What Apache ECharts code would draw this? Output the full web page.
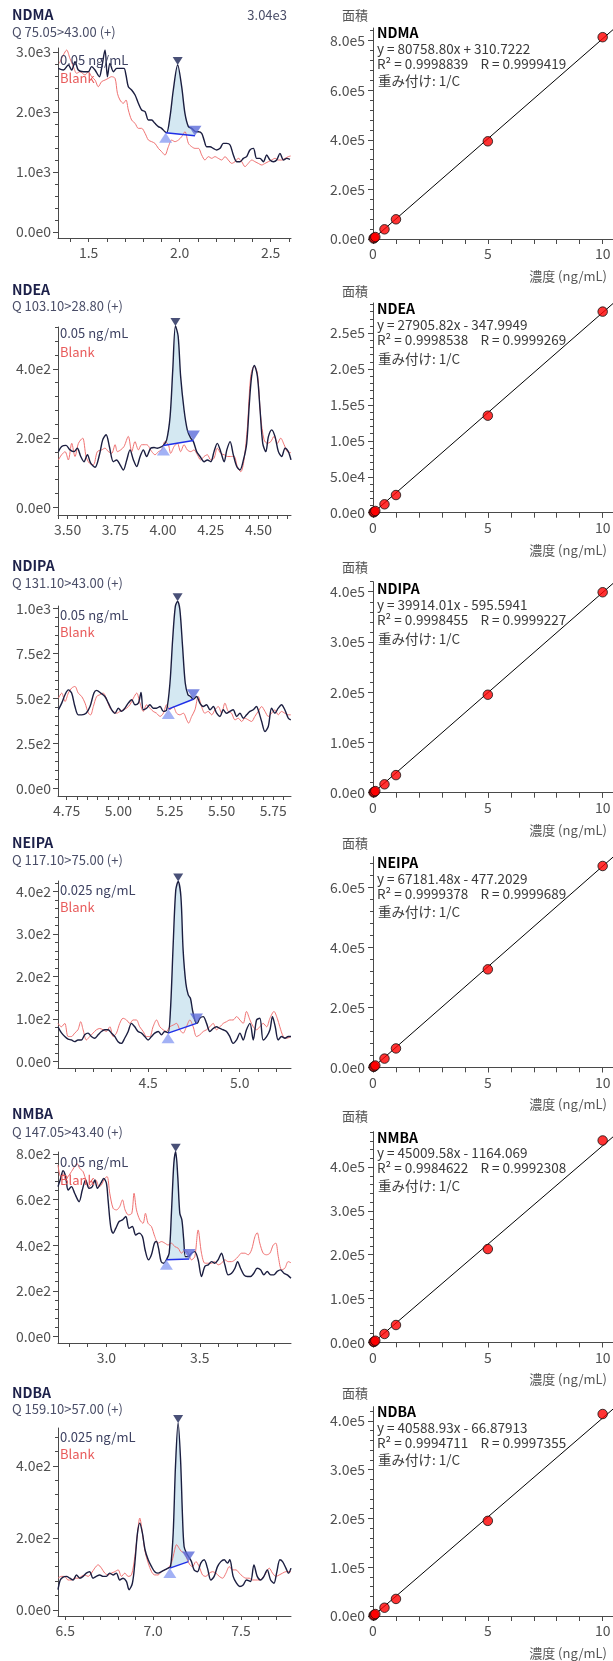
<!DOCTYPE html>
<html><head><meta charset="utf-8">
<script src="https://cdn.jsdelivr.net/npm/echarts@6/dist/echarts.min.js"></script>
<style>html,body{margin:0;padding:0;background:#fff}#c{width:613px;height:1661px}</style>
</head><body><div id="c"></div><script>
// ---------------- DATA ----------------
const compounds = ['NDMA','NDEA','NDIPA','NEIPA','NMBA','NDBA'];
const transitions = ['Q 75.05>43.00 (+)','Q 103.10>28.80 (+)','Q 131.10>43.00 (+)','Q 117.10>75.00 (+)','Q 147.05>43.40 (+)','Q 159.10>57.00 (+)'];
const sampleNames = ['0.05 ng/mL','0.05 ng/mL','0.05 ng/mL','0.025 ng/mL','0.05 ng/mL','0.025 ng/mL'];
const blankName = 'Blank';
const maxIntensityLabel = '3.04e3';

const ndmaSample = [[1.333,2728],[1.361,2700],[1.388,2783],[1.407,2700],[1.425,2839],[1.443,2700],[1.471,2672],[1.498,2672],[1.516,2756],[1.535,2700],[1.559,2589],[1.571,2728],[1.590,3033],[1.603,2589],[1.617,2811],[1.636,2672],[1.654,2728],[1.672,2728],[1.694,2728],[1.705,2617],[1.718,2422],[1.736,2367],[1.755,2283],[1.773,2145],[1.791,2033],[1.810,2006],[1.828,1867],[1.846,1867],[1.864,1811],[1.883,1756],[1.901,1728],[1.919,1672],[1.929,1656],[1.947,1922],[1.965,2367],[1.989,2783],[2.011,2422],[2.029,1978],[2.048,1756],[2.066,1728],[2.088,1672],[2.103,1672],[2.121,1644],[2.134,1533],[2.148,1422],[2.167,1422],[2.185,1394],[2.203,1367],[2.222,1394],[2.240,1478],[2.258,1478],[2.277,1450],[2.295,1283],[2.313,1172],[2.332,1172],[2.350,1228],[2.368,1256],[2.386,1367],[2.405,1394],[2.423,1228],[2.441,1228],[2.460,1172],[2.478,1283],[2.496,1200],[2.515,1172],[2.533,1200],[2.551,1311],[2.570,1200],[2.588,1228],[2.606,1211]];
const ndmaBlank = [[1.339,2811],[1.361,2950],[1.379,3033],[1.397,2894],[1.416,2756],[1.434,2645],[1.452,2672],[1.480,2617],[1.498,2672],[1.516,2589],[1.535,2533],[1.553,2422],[1.571,2506],[1.590,2533],[1.608,2561],[1.626,2589],[1.645,2561],[1.658,2311],[1.672,2200],[1.690,2145],[1.705,2200],[1.718,2033],[1.736,1867],[1.755,1811],[1.773,1728],[1.791,1728],[1.810,1644],[1.828,1533],[1.846,1506],[1.864,1478],[1.883,1394],[1.901,1339],[1.919,1283],[1.938,1422],[1.956,1533],[1.974,1506],[1.993,1533],[2.011,1589],[2.029,1672],[2.048,1478],[2.066,1422],[2.084,1394],[2.103,1394],[2.121,1283],[2.139,1200],[2.158,1256],[2.176,1228],[2.194,1256],[2.212,1228],[2.231,1200],[2.249,1256],[2.267,1200],[2.286,1144],[2.304,1172],[2.322,1228],[2.341,1172],[2.359,1089],[2.377,1144],[2.396,1200],[2.414,1172],[2.432,1144],[2.451,1117],[2.469,1144],[2.487,1172],[2.505,1200],[2.524,1228],[2.542,1200],[2.560,1200],[2.579,1228],[2.597,1256],[2.610,1267]];

const ndeaSample = [[3.452,161],[3.469,176],[3.492,179],[3.513,166],[3.534,161],[3.551,171],[3.569,147],[3.586,132],[3.604,152],[3.621,128],[3.644,116],[3.667,152],[3.684,195],[3.702,210],[3.719,176],[3.740,132],[3.757,137],[3.775,123],[3.792,108],[3.810,137],[3.827,166],[3.845,137],[3.862,118],[3.880,147],[3.897,166],[3.914,147],[3.935,171],[3.953,173],[3.970,171],[3.988,174],[4.002,179],[4.019,195],[4.037,263],[4.051,398],[4.065,524],[4.079,495],[4.092,379],[4.110,282],[4.127,224],[4.145,200],[4.159,190],[4.176,161],[4.194,147],[4.215,132],[4.232,137],[4.250,132],[4.267,161],[4.284,185],[4.302,161],[4.320,132],[4.334,166],[4.351,190],[4.368,152],[4.386,118],[4.403,108],[4.421,137],[4.438,185],[4.452,301],[4.464,379],[4.478,410],[4.494,379],[4.508,282],[4.522,185],[4.538,161],[4.552,205],[4.569,224],[4.586,205],[4.604,161],[4.621,147],[4.639,171],[4.656,161],[4.670,137]];
const ndeaBlank = [[3.452,137],[3.469,152],[3.487,161],[3.504,137],[3.522,185],[3.539,147],[3.557,185],[3.579,200],[3.597,147],[3.614,128],[3.635,123],[3.656,161],[3.679,166],[3.696,171],[3.714,161],[3.731,156],[3.749,181],[3.761,161],[3.778,166],[3.796,176],[3.818,205],[3.836,161],[3.853,190],[3.871,166],[3.888,181],[3.914,181],[3.941,161],[3.958,152],[3.976,161],[3.993,166],[4.010,190],[4.028,181],[4.040,156],[4.058,176],[4.075,185],[4.092,161],[4.110,181],[4.127,166],[4.145,161],[4.162,166],[4.180,152],[4.197,137],[4.215,147],[4.232,152],[4.250,137],[4.267,142],[4.284,171],[4.302,156],[4.320,152],[4.337,147],[4.354,147],[4.372,147],[4.389,118],[4.407,103],[4.424,137],[4.442,234],[4.459,379],[4.477,408],[4.494,388],[4.511,263],[4.529,195],[4.546,185],[4.564,190],[4.581,205],[4.599,185],[4.616,200],[4.634,181],[4.651,161],[4.670,158]];

const ndipaSample = [[4.710,437],[4.726,474],[4.742,521],[4.758,548],[4.774,530],[4.790,455],[4.806,409],[4.823,409],[4.844,418],[4.863,455],[4.882,530],[4.895,545],[4.915,530],[4.935,511],[4.952,474],[4.968,437],[4.984,418],[5.000,446],[5.016,428],[5.032,446],[5.048,474],[5.065,493],[5.081,465],[5.097,474],[5.110,534],[5.121,437],[5.137,446],[5.153,465],[5.169,446],[5.185,446],[5.202,455],[5.218,428],[5.234,437],[5.250,586],[5.263,827],[5.276,1013],[5.287,1041],[5.298,995],[5.311,790],[5.324,586],[5.337,521],[5.350,511],[5.363,496],[5.379,511],[5.395,474],[5.411,455],[5.427,465],[5.444,437],[5.460,455],[5.476,418],[5.492,400],[5.508,437],[5.524,418],[5.540,428],[5.556,437],[5.573,400],[5.589,418],[5.605,390],[5.621,409],[5.637,428],[5.653,437],[5.669,455],[5.677,437],[5.694,372],[5.710,316],[5.726,344],[5.742,446],[5.758,418],[5.774,446],[5.790,465],[5.806,437],[5.823,390],[5.835,381]];
const ndipaBlank = [[4.710,502],[4.726,530],[4.742,483],[4.758,530],[4.774,558],[4.790,567],[4.806,530],[4.823,511],[4.839,474],[4.855,418],[4.866,409],[4.879,455],[4.895,511],[4.911,521],[4.927,530],[4.944,493],[4.960,446],[4.976,428],[4.992,418],[5.008,428],[5.024,437],[5.040,446],[5.056,465],[5.073,502],[5.089,530],[5.105,474],[5.121,428],[5.137,465],[5.153,446],[5.169,428],[5.185,418],[5.202,400],[5.218,418],[5.234,465],[5.250,437],[5.266,455],[5.282,418],[5.298,409],[5.315,418],[5.331,381],[5.340,363],[5.355,400],[5.371,437],[5.387,511],[5.403,455],[5.419,418],[5.435,428],[5.452,409],[5.468,437],[5.484,455],[5.500,418],[5.516,474],[5.532,428],[5.548,418],[5.565,381],[5.581,390],[5.597,372],[5.613,390],[5.629,381],[5.645,372],[5.661,400],[5.677,428],[5.694,455],[5.710,428],[5.726,400],[5.742,418],[5.758,437],[5.774,409],[5.790,428],[5.806,418],[5.823,409],[5.835,409]];

const neipaSample = [[4.008,82],[4.026,68],[4.045,59],[4.063,53],[4.081,51],[4.099,47],[4.117,51],[4.136,51],[4.154,63],[4.172,67],[4.190,59],[4.209,55],[4.227,63],[4.245,71],[4.263,75],[4.281,75],[4.300,67],[4.318,59],[4.336,47],[4.354,43],[4.372,55],[4.391,71],[4.409,90],[4.427,82],[4.445,71],[4.464,67],[4.482,59],[4.500,51],[4.518,59],[4.536,67],[4.555,71],[4.573,63],[4.591,71],[4.609,68],[4.622,122],[4.637,278],[4.651,404],[4.664,424],[4.679,388],[4.691,263],[4.706,184],[4.719,157],[4.731,149],[4.742,122],[4.755,98],[4.768,90],[4.782,102],[4.801,106],[4.819,90],[4.837,71],[4.855,78],[4.873,82],[4.892,78],[4.910,75],[4.928,71],[4.946,59],[4.964,43],[4.983,51],[5.001,67],[5.019,51],[5.037,75],[5.056,90],[5.074,51],[5.092,98],[5.110,102],[5.128,51],[5.147,59],[5.165,75],[5.179,106],[5.194,82],[5.210,51],[5.229,59],[5.247,55],[5.265,59],[5.280,59]];
const neipaBlank = [[4.008,90],[4.026,82],[4.045,90],[4.063,59],[4.081,59],[4.099,67],[4.117,75],[4.132,94],[4.145,75],[4.163,51],[4.181,59],[4.199,67],[4.218,75],[4.236,78],[4.254,75],[4.272,71],[4.291,82],[4.309,59],[4.327,67],[4.345,90],[4.363,102],[4.382,98],[4.400,90],[4.418,98],[4.436,98],[4.454,82],[4.473,71],[4.491,59],[4.509,59],[4.527,82],[4.546,98],[4.564,82],[4.582,75],[4.600,71],[4.618,82],[4.637,86],[4.655,90],[4.673,75],[4.691,67],[4.709,82],[4.728,98],[4.746,82],[4.764,59],[4.782,63],[4.801,71],[4.819,75],[4.837,82],[4.855,90],[4.873,75],[4.892,82],[4.910,90],[4.928,94],[4.946,98],[4.964,98],[4.983,106],[5.001,98],[5.019,90],[5.037,118],[5.056,98],[5.074,82],[5.092,75],[5.110,82],[5.128,90],[5.147,82],[5.165,102],[5.187,118],[5.205,102],[5.219,82],[5.238,59],[5.256,55],[5.280,59]];

const nmbaSample = [[2.741,657],[2.755,693],[2.768,727],[2.782,701],[2.795,642],[2.813,657],[2.830,628],[2.854,591],[2.871,642],[2.889,686],[2.907,650],[2.925,657],[2.938,686],[2.952,650],[2.970,672],[2.986,693],[3.000,672],[3.009,599],[3.023,482],[3.036,453],[3.050,474],[3.068,504],[3.086,511],[3.104,526],[3.121,474],[3.139,482],[3.157,445],[3.175,453],[3.193,438],[3.207,380],[3.225,336],[3.241,358],[3.257,409],[3.268,416],[3.279,387],[3.293,328],[3.307,321],[3.321,336],[3.336,365],[3.348,540],[3.361,759],[3.371,810],[3.382,701],[3.393,540],[3.404,511],[3.414,423],[3.423,350],[3.438,350],[3.455,365],[3.473,372],[3.491,336],[3.509,263],[3.527,307],[3.545,314],[3.563,328],[3.580,321],[3.598,336],[3.616,365],[3.634,314],[3.652,270],[3.670,277],[3.688,299],[3.702,328],[3.718,299],[3.736,270],[3.754,263],[3.771,263],[3.789,277],[3.807,299],[3.825,292],[3.843,270],[3.861,285],[3.879,270],[3.896,270],[3.914,285],[3.932,292],[3.950,277],[3.968,270],[3.988,255]];
const nmbaBlank = [[2.741,752],[2.755,701],[2.768,715],[2.782,686],[2.795,701],[2.813,723],[2.830,745],[2.843,759],[2.857,737],[2.875,723],[2.893,679],[2.907,657],[2.925,672],[2.943,686],[2.961,657],[2.973,664],[2.991,693],[3.004,701],[3.018,628],[3.036,562],[3.054,555],[3.071,569],[3.086,599],[3.100,555],[3.118,533],[3.136,540],[3.148,628],[3.161,555],[3.179,511],[3.196,496],[3.209,540],[3.223,496],[3.241,482],[3.259,438],[3.277,409],[3.295,416],[3.313,409],[3.330,401],[3.348,409],[3.366,394],[3.384,387],[3.402,365],[3.420,380],[3.438,365],[3.455,336],[3.473,350],[3.491,467],[3.509,365],[3.527,321],[3.545,321],[3.563,321],[3.580,328],[3.598,314],[3.616,321],[3.634,336],[3.652,328],[3.670,328],[3.688,336],[3.705,350],[3.723,365],[3.741,365],[3.759,358],[3.777,380],[3.795,438],[3.807,455],[3.821,409],[3.839,365],[3.857,358],[3.875,365],[3.893,401],[3.907,409],[3.920,350],[3.938,292],[3.955,299],[3.973,328],[3.988,323]];

const ndbaSample = [[6.459,56],[6.472,83],[6.488,91],[6.507,93],[6.526,88],[6.545,83],[6.564,97],[6.583,88],[6.602,93],[6.620,102],[6.639,106],[6.658,88],[6.677,93],[6.696,97],[6.715,93],[6.734,93],[6.753,102],[6.772,97],[6.791,102],[6.810,83],[6.829,88],[6.848,79],[6.863,56],[6.882,74],[6.896,130],[6.911,213],[6.924,241],[6.939,213],[6.954,167],[6.972,139],[6.991,120],[7.009,106],[7.028,102],[7.047,106],[7.066,111],[7.085,116],[7.099,120],[7.114,213],[7.127,398],[7.142,519],[7.156,417],[7.167,259],[7.176,176],[7.190,157],[7.205,145],[7.218,134],[7.233,111],[7.252,106],[7.271,130],[7.290,139],[7.309,116],[7.328,83],[7.347,93],[7.366,120],[7.385,134],[7.404,139],[7.423,130],[7.436,139],[7.455,93],[7.474,74],[7.493,65],[7.512,69],[7.531,83],[7.554,79],[7.573,125],[7.592,93],[7.611,83],[7.630,93],[7.649,111],[7.668,83],[7.687,74],[7.702,102],[7.721,139],[7.736,134],[7.755,116],[7.770,102],[7.784,116]];
const ndbaBlank = [[6.459,88],[6.478,93],[6.497,93],[6.516,83],[6.535,83],[6.554,88],[6.573,88],[6.592,93],[6.611,97],[6.630,93],[6.649,102],[6.668,116],[6.687,125],[6.706,116],[6.725,102],[6.744,97],[6.763,102],[6.782,106],[6.801,111],[6.820,93],[6.839,102],[6.858,93],[6.877,97],[6.896,148],[6.911,213],[6.924,255],[6.939,213],[6.954,162],[6.972,130],[6.991,106],[7.009,97],[7.028,97],[7.047,106],[7.066,111],[7.085,116],[7.104,130],[7.118,157],[7.133,181],[7.148,171],[7.161,162],[7.180,157],[7.195,139],[7.209,125],[7.224,120],[7.243,134],[7.262,120],[7.281,97],[7.300,93],[7.319,102],[7.338,106],[7.357,102],[7.376,93],[7.395,88],[7.414,102],[7.433,120],[7.452,111],[7.471,111],[7.490,102],[7.509,93],[7.528,88],[7.546,88],[7.565,83],[7.584,83],[7.603,83],[7.622,88],[7.641,102],[7.660,116],[7.679,102],[7.698,93],[7.717,97],[7.736,102],[7.755,106],[7.784,106]];

const peakStart = [[1.923,1656],[4.002,179],[5.242,441],[4.609,67],[3.321,336],[7.095,116]];
const peakEnd   = [[2.084,1606],[4.159,193],[5.363,496],[4.764,90],[3.443,340],[7.201,134]];
const peakApex  = [[1.989,2783],[4.065,524],[5.287,1041],[4.664,424],[3.371,810],[7.142,519]];

const chromXTicks = [[1.5,2.0,2.5],[3.5,3.75,4.0,4.25,4.5],[4.75,5.0,5.25,5.5,5.75],[4.5,5.0],[3.0,3.5],[6.5,7.0,7.5]];
const chromXDecimals = [1,2,2,1,1,1];
const chromYTicks = [[0,1000,2000,3000],[0,200,400],[0,250,500,750,1000],[0,100,200,300,400],[0,200,400,600,800],[0,200,400]];

const calConc = [0.025,0.05,0.1,0.5,1,5,10];
const ndmaArea  = [2000,4100,8000,39000,79400,394000,814000];
const ndeaArea  = [500,1100,2400,11700,24600,135100,280000];
const ndipaArea = [600,1500,3200,16700,35000,195000,399000];
const neipaArea = [1300,2900,6000,29000,63000,327000,672000];
const nmbaArea  = [700,1600,3600,19000,39500,213000,461000];
const ndbaArea  = [1000,2000,4000,17000,35000,195000,414000];
const fitLines = [
  [[0,311],[10.45,844241]],
  [[0,-348],[10.45,291268]],
  [[0,-596],[10.45,416505]],
  [[0,-477],[10.45,701569]],
  [[0,-1164],[10.45,469186]],
  [[0,-67],[10.45,424087]]
];
const equations = ['y = 80758.80x + 310.7222','y = 27905.82x - 347.9949','y = 39914.01x - 595.5941','y = 67181.48x - 477.2029','y = 45009.58x - 1164.069','y = 40588.93x - 66.87913'];
const correlations = ['R\u00b2 = 0.9998839    R = 0.9999419','R\u00b2 = 0.9998538    R = 0.9999269','R\u00b2 = 0.9998455    R = 0.9999227','R\u00b2 = 0.9999378    R = 0.9999689','R\u00b2 = 0.9984622    R = 0.9992308','R\u00b2 = 0.9994711    R = 0.9997355'];
const weighting = '重み付け: 1/C';
const calXTicks = [0,5,10];
const calYTicks = [[0,200000,400000,600000,800000],[0,50000,100000,150000,200000,250000],[0,100000,200000,300000,400000],[0,200000,400000,600000],[0,100000,200000,300000,400000],[0,100000,200000,300000,400000]];
const calYName = '面積';
const calXName = '濃度 (ng/mL)';

const samples = [ndmaSample, ndeaSample, ndipaSample, neipaSample, nmbaSample, ndbaSample];
const blanks  = [ndmaBlank, ndeaBlank, ndipaBlank, neipaBlank, nmbaBlank, ndbaBlank];
const calAreas = [ndmaArea, ndeaArea, ndipaArea, neipaArea, nmbaArea, ndbaArea];

// ---------------- LAYOUT / STYLE ----------------
const FONT = '"Noto Sans CJK JP","Noto Sans",sans-serif';
const AXIS = '#4a4a4a', LABEL = '#505050';
const NAVY = '#1b1e40', RED = '#f07272';
const chromLayout = [
  {top:48,  bottom:238,  x:[1.3315,2.6117], y:[-100,3067], xm:0.1,  ym:200, title:15,    q:32,   s:60,     b:78},
  {top:327, bottom:515,  x:[3.450,4.670],   y:[-22,521],   xm:0.05, ym:40,  title:290,   q:306,  s:333,    b:351.7},
  {top:606, bottom:796,  x:[4.708,5.836],   y:[-43,1015],  xm:0.05, ym:50,  title:566,   q:583,  s:615,    b:631.7},
  {top:881, bottom:1068, x:[4.008,5.280],   y:[-15,425],   xm:0.1,  ym:20,  title:843,   q:860,  s:890,    b:907.3},
  {top:1152,bottom:1343, x:[2.741,3.988],   y:[-29,809],   xm:0.1,  ym:40,  title:1114,  q:1132, s:1161.7, b:1180},
  {top:1428,bottom:1616, x:[6.459,7.784],   y:[-17,505],   xm:0.1,  ym:40,  title:1392.7,q:1409, s:1436.7, b:1454.3}
];
const calLayout = [
  {top:28,    bottom:239,    ymax:851000, ym:40000, area:15,    name:33,    wgap:48},
  {top:303,   bottom:512.7,  ymax:292000, ym:10000, area:290.7, name:309,   wgap:50},
  {top:581.7, bottom:792.7,  ymax:420000, ym:20000, area:566.7, name:589,   wgap:50},
  {top:856.7, bottom:1067.3, ymax:703000, ym:40000, area:843.3, name:862.7, wgap:49},
  {top:1131.7,bottom:1342.3, ymax:481000, ym:20000, area:1116,  name:1137.3,wgap:49},
  {top:1406.7,bottom:1616,   ymax:429000, ym:20000, area:1392.7,name:1411.7,wgap:48}
];
const LX = 58, LW = 233, RX = 373, RW = 240, CAL_XMAX = 10.45;

function steps(a, b, s) {
  const out = [];
  const start = Math.ceil(a / s - 1e-9);
  for (let k = start; k * s <= b + 1e-9; k++) out.push(+(k * s).toFixed(6));
  return out;
}
const expFmt = v => v.toExponential(1).replace('e+', 'e');

const grids = [], xAxes = [], yAxes = [], series = [], graphics = [];

function axisPair(kind, grid, min, max, major, minor, fmt, majorLen, minorLen, margin) {
  const base = {type:'value', gridIndex:grid, min:min, max:max, splitLine:{show:false},
    position: kind === 'x' ? 'bottom' : 'left', scale:true};
  const main = Object.assign({}, base, {
    axisLine:{show:true, onZero:false, lineStyle:{color:AXIS, width:1}},
    axisTick:{show:true, customValues:major, length:majorLen, lineStyle:{color:AXIS}},
    axisLabel:{show:true, customValues:major, formatter:fmt, color:LABEL, fontSize:14, fontFamily:FONT, margin:margin}
  });
  const sub = Object.assign({}, base, {
    axisLine:{show:false, onZero:false},
    axisLabel:{show:false},
    axisTick:{show:true, customValues:minor, length:minorLen, lineStyle:{color:AXIS}}
  });
  return [main, sub];
}
function txt(x, y, text, opt) {
  graphics.push({type:'text', x:x, y:y, silent:true, z:100,
    style:Object.assign({text:text, fontFamily:FONT, fontSize:13, fill:'#333', align:'left', verticalAlign:'middle'}, opt || {})});
}

for (let i = 0; i < 6; i++) {
  // ---------- left: chromatogram ----------
  const L = chromLayout[i];
  const gL = 2 * i, gR = 2 * i + 1;
  grids.push({left:LX, top:L.top, width:LW, height:L.bottom - L.top, outerBoundsMode:'none', containLabel:false});
  const dec = chromXDecimals[i];
  xAxes.push(...axisPair('x', gL, L.x[0], L.x[1], chromXTicks[i], steps(L.x[0], L.x[1], L.xm), v => v.toFixed(dec), 4, 4, 8));
  yAxes.push(...axisPair('y', gL, L.y[0], L.y[1], chromYTicks[i], steps(0, L.y[1], L.ym), expFmt, 5, 3, 7));
  const xi = 4 * i, yi = 4 * i;
  const common = {xAxisIndex:xi, yAxisIndex:yi, silent:true, animation:false};
  series.push(Object.assign({type:'custom', data:[peakStart[i]], dimensions:['x','y'], encode:{x:0, y:1}, z:1,
    renderItem: (function (idx) {
      return function (params, api) {
        const s = peakStart[idx], e = peakEnd[idx];
        const pts = [api.coord(s)];
        samples[idx].forEach(p => { if (p[0] > s[0] && p[0] < e[0]) pts.push(api.coord(p)); });
        pts.push(api.coord(e));
        return {type:'polygon', shape:{points:pts}, style:{fill:'#d4e8f2', stroke:null}};
      };
    })(i)}, common));
  series.push(Object.assign({type:'line', data:blanks[i], showSymbol:false, smooth:0.3, clip:false,
    lineStyle:{color:RED, width:1}, z:2}, common));
  series.push(Object.assign({type:'line', data:samples[i], showSymbol:false, smooth:0.3, clip:false,
    lineStyle:{color:NAVY, width:1.4}, z:3}, common));
  series.push(Object.assign({type:'line', data:[peakStart[i], peakEnd[i]], showSymbol:false, clip:false,
    lineStyle:{color:'#1f2fe8', width:1.5}, z:4}, common));
  series.push(Object.assign({type:'scatter', data:[peakStart[i]], symbol:'triangle', symbolSize:[13,10], symbolOffset:[0,5], clip:false,
    itemStyle:{color:'#8b9df3'}, z:5}, common));
  series.push(Object.assign({type:'scatter', data:[peakEnd[i]], symbol:'triangle', symbolRotate:180, symbolSize:[13,10], symbolOffset:[0,-5], clip:false,
    itemStyle:{color:'#5b6bd9'}, z:5}, common));
  series.push(Object.assign({type:'scatter', data:[peakApex[i]], symbol:'triangle', symbolRotate:180, symbolSize:[10,8], symbolOffset:[0,-4], clip:false,
    itemStyle:{color:'#1b2455'}, z:5}, common));

  txt(12, L.title, compounds[i], {fontWeight:'bold', fontSize:14, fill:'#1c2049'});
  txt(12, L.q, transitions[i], {fill:'#4a4e68'});
  txt(60, L.s, sampleNames[i], {fill:'#3e4262'});
  txt(60, L.b, blankName, {fill:'#e85a5a'});
  if (i === 0) txt(287, L.title, maxIntensityLabel, {align:'right', fill:'#4a4e68'});

  // ---------- right: calibration ----------
  const C = calLayout[i];
  grids.push({left:RX, top:C.top, width:RW, height:C.bottom - C.top, outerBoundsMode:'none', containLabel:false});
  xAxes.push(...axisPair('x', gR, 0, CAL_XMAX, calXTicks, steps(0, 10, 1), v => String(v), 5, 5, 8));
  yAxes.push(...axisPair('y', gR, 0, C.ymax, calYTicks[i], steps(0, C.ymax, C.ym), expFmt, 5, 3, 8));
  const cx = 4 * i + 2, cy = 4 * i + 2;
  series.push({type:'line', xAxisIndex:cx, yAxisIndex:cy, data:fitLines[i], showSymbol:false, silent:true, animation:false,
    lineStyle:{color:'#000', width:1}, z:2});
  series.push({type:'scatter', xAxisIndex:cx, yAxisIndex:cy, data:calConc.map((c, k) => [c, calAreas[i][k]]),
    symbol:'circle', symbolSize:9.5, silent:true, animation:false, clip:false,
    itemStyle:{color:'#ff0000', borderColor:'#111', borderWidth:1}, z:3});

  txt(355, C.area, calYName, {align:'center', fill:'#555'});
  txt(607, C.bottom + 37, calXName, {align:'right', fill:'#555'});
  txt(377, C.name, compounds[i], {fontWeight:'bold', fontSize:14, fill:'#000'});
  txt(377, C.name + 16, equations[i], {fill:'#3a3a3a', fontSize:13.5});
  txt(377, C.name + 31, correlations[i], {fill:'#3a3a3a', fontSize:13.5});
  txt(378, C.name + C.wgap, weighting, {fill:'#3a3a3a', fontSize:13.5});
}

const chart = echarts.init(document.getElementById('c'), null, {renderer:'canvas'});
chart.setOption({
  animation:false,
  backgroundColor:'#ffffff',
  grid:grids, xAxis:xAxes, yAxis:yAxes, series:series, graphic:graphics
});
</script></body></html>
